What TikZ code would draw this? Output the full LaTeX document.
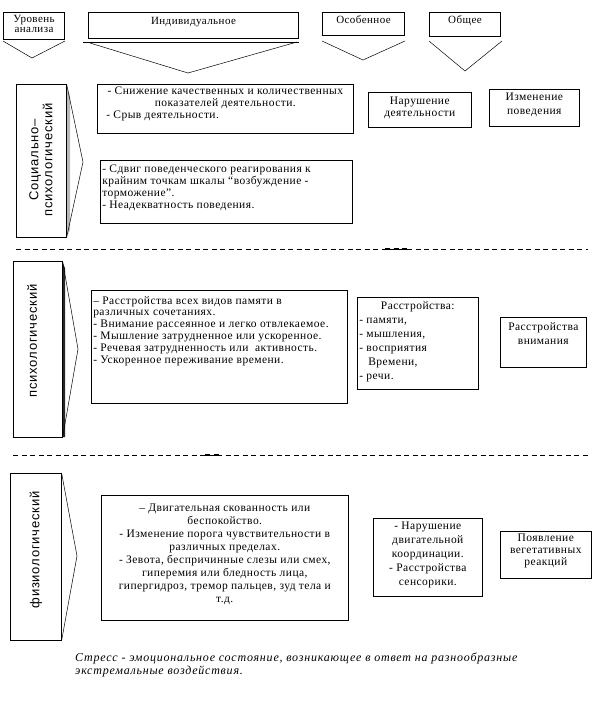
\documentclass[tikz,border=0pt]{standalone}
\usepackage{fontspec}
\setmainfont{Liberation Serif}
\newfontfamily\sansf[LetterSpace=6]{Liberation Sans}
\newfontfamily\boxf[LetterSpace=4]{Liberation Serif}
\newfontfamily\capf[LetterSpace=6.5]{Liberation Serif Italic}
\newcommand\bx[3]{\parbox[c][#2pt][t]{#1pt}{#3}}
\begin{document}
\begin{tikzpicture}[x=1pt,y=-1pt]
\useasboundingbox (0,0) rectangle (600,710);
\tikzset{
  hbox/.style={draw, line width=1pt, anchor=north west, inner sep=2pt, font=\boxf\fontsize{11}{11.5}\selectfont},
  tbox/.style={draw, line width=0.6pt, anchor=north west, inner sep=2pt, font=\boxf\fontsize{11.5}{11.8}\selectfont},
  lvl/.style={draw, line width=0.6pt, anchor=north west, inner sep=0pt},
  lvltext/.style={font=\sansf\fontsize{13}{14}\selectfont, rotate=90, align=center, inner sep=0pt},
  chev/.style={line width=0.5pt},
  sepline/.style={dash pattern=on 5pt off 3.5pt, line width=0.6pt},
  sepbold/.style={dash pattern=on 5pt off 3.5pt, line width=1.4pt},
}
% header
\node[hbox] (h1) at (3,12) {\bx{57}{23}{\centering\vspace*{1pt}Уровень\\[-1.5pt] анализа}};
\node[hbox] (h2) at (88,12) {\bx{206}{22}{\centering\vspace*{3pt}Индивидуальное}};
\node[hbox] (h3) at (322,12) {\bx{78}{19}{\centering\vspace*{1pt}Особенное}};
\node[hbox] (h4) at (429,12) {\bx{67}{20}{\centering\vspace*{1pt}Общее}};
\coordinate (h1a) at (3,41); \coordinate (h1b) at (32,58); \coordinate (h1c) at (65,41);
\coordinate (h2a) at (90,43); \coordinate (h2b) at (188,73); \coordinate (h2c) at (297,42);
\coordinate (h2l) at (83,42); \coordinate (h2r) at (299,42);
\coordinate (h3a) at (322,41); \coordinate (h3b) at (363,60); \coordinate (h3c) at (405,41);
\coordinate (h4a) at (429,41); \coordinate (h4b) at (465,71); \coordinate (h4c) at (502,41);
\draw[chev] (h1a) -- (h1b) -- (h1c);
\draw[chev] (h2l) -- (h2r);
\draw[chev] (h2a) -- (h2b) -- (h2c);
\draw[chev] (h3a) -- (h3b) -- (h3c);
\draw[chev] (h4a) -- (h4b) -- (h4c);
% level boxes
\fill[gray!55] (66,84) -- (70,96) -- (70,230) -- (66,237) -- cycle;
\node[lvl, minimum width=50pt, minimum height=153pt] (l1) at (16,84) {};
\node[lvltext] (l1t) at (41,160) {Социально–\\психологический};
\coordinate (l1x) at (83,162);
\draw[chev] (l1.north east) -- (l1x) -- (l1.south east);
\fill[black!85] (62,261) -- (65,268) -- (65,437) -- (62,437) -- cycle;
\node[lvl, minimum width=49pt, minimum height=176pt] (l2) at (13,261) {};
\node[lvltext] (l2t) at (32,341) {психологический};
\coordinate (l2x) at (78,349);
\draw[chev] (l2.north east) -- (l2x) -- (l2.south east);
\node[lvl, minimum width=51pt, minimum height=167pt] (l3) at (10,473) {};
\node[lvltext] (l3t) at (36,550) {физиологический};
\coordinate (l3x) at (77,556);
\draw[chev] (l3.north east) -- (l3x) -- (l3.south east);
% row 1
\node[tbox] (t1) at (97,84) {\bx{252}{45}{\vspace*{0.5pt}{\centering - Снижение качественных и количественных\\ показателей деятельности.\par}\hspace*{7pt}- Срыв деятельности.}};
\node[tbox] (t2) at (100,160) {\bx{248}{59}{\raggedright\vspace*{3pt} - Сдвиг поведенческого реагирования к\\ крайним точкам шкалы “возбуждение -\\ торможение”.\\ - Неадекватность поведения.}};
\node[tbox] (n1) at (368,92) {\bx{99}{31}{\centering\vspace*{3pt} Нарушение\\ деятельности}};
\node[tbox, font=\boxf\fontsize{11.5}{13.5}\selectfont] (n2) at (489,89) {\bx{86}{33}{\centering\vspace*{2pt} Изменение\\ поведения}};
% separator 1
\coordinate (s1a) at (16,249); \coordinate (s1b) at (588,249);
\coordinate (s1c) at (385,249); \coordinate (s1d) at (409,249);
\draw[sepline] (s1a) -- (s1b);
\draw[sepbold] (s1c) -- (s1d);
% row 2
\node[tbox] (t3) at (91,290) {\bx{252}{109}{\raggedright\vspace*{4pt} – Расстройства всех видов памяти в\\ различных сочетаниях.\\ - Внимание рассеянное и легко отвлекаемое.\\ - Мышление затрудненное или ускоренное.\\ - Речевая затрудненность или\ \ активность.\\ - Ускоренное переживание времени.}};
\node[tbox, font=\boxf\fontsize{11.5}{14}\selectfont] (n3) at (357,297) {\bx{117}{88}{\vspace*{2pt}{\centering Расстройства:\par}\raggedright - памяти,\\ - мышления,\\ - восприятия\\ \hspace*{9pt}Времени,\\ - речи.}};
\node[tbox, font=\boxf\fontsize{11.5}{14}\selectfont] (n4) at (500,317) {\bx{82}{46}{\centering\vspace*{3pt} Расстройства\\ внимания}};
% separator 2
\coordinate (s2a) at (13,455); \coordinate (s2b) at (590,455);
\coordinate (s2c) at (205,455); \coordinate (s2d) at (219,455);
\draw[sepline] (s2a) -- (s2b);
\draw[sepbold] (s2c) -- (s2d);
% row 3
\node[tbox, font=\boxf\fontsize{11.5}{12.9}\selectfont] (t4) at (101,495) {\bx{243}{121}{\centering\vspace*{7pt} – Двигательная скованность или\\ беспокойство.\\ - Изменение порога чувствительности в\\ различных пределах.\\ - Зевота, беспричинные слезы или смех,\\ гиперемия или бледность лица,\\ гипергидроз, тремор пальцев, зуд тела и\\ т.д.}};
\node[tbox, font=\boxf\fontsize{11.5}{14}\selectfont] (n5) at (373,518) {\bx{105}{74}{\centering\vspace*{2pt} - Нарушение\\ двигательной\\ координации.\\ - Расстройства\\ сенсорики.}};
\node[tbox, font=\boxf\fontsize{11.5}{12}\selectfont] (n6) at (500,531) {\bx{87}{43}{\centering\vspace*{1pt} Появление\\ вегетативных\\ реакций}};
% caption
\node[anchor=north west, inner sep=0pt, align=left, font=\capf\fontsize{12}{12.5}\selectfont] (cap) at (75,653) {Стресс - эмоциональное состояние, возникающее в ответ на разнообразные\\ экстремальные воздействия.};
\end{tikzpicture}
\end{document}
